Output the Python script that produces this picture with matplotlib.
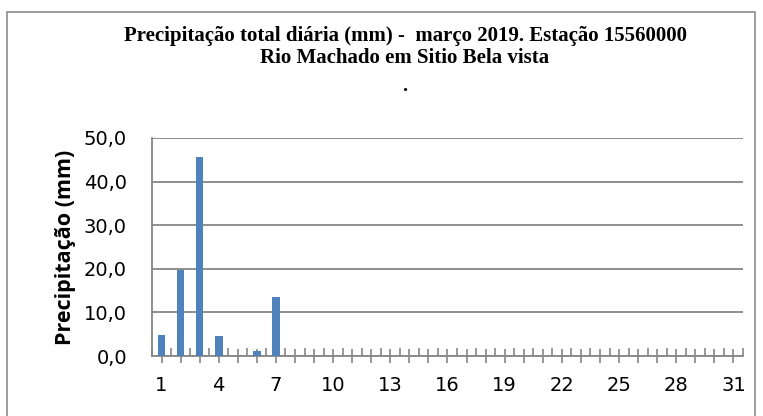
import matplotlib.pyplot as plt
from matplotlib.patches import Rectangle

# dados diários de março 2019
dias = list(range(1, 32))
chuva = [4.8, 19.7, 45.7, 4.6, 0.0, 1.2, 13.6] + [0.0] * 24
rotulos_x = [str(d) if (d - 1) % 3 == 0 else "" for d in dias]
valores_y = [0, 10, 20, 30, 40, 50]

cinza = "#868686"
plt.rcParams["xtick.direction"] = "inout"
plt.rcParams["xtick.major.size"] = 9.5
plt.rcParams["xtick.major.width"] = 1.2
plt.rcParams["xtick.minor.size"] = 5.8
plt.rcParams["xtick.minor.width"] = 1.2
plt.rcParams["xtick.color"] = cinza
plt.rcParams["xtick.labelcolor"] = "black"

fig = plt.figure(figsize=(7.63, 4.16), dpi=100)
ax = fig.add_axes([0.1992, 0.1442, 0.7746, 0.5241])

# moldura externa do gráfico
fig.patches.append(Rectangle((7 / 763, -0.1), 748 / 763, 1 - 12 / 416 + 0.1,
                             transform=fig.transFigure, fill=False,
                             edgecolor="#8c8c8c", linewidth=1.2))

ax.bar(dias, chuva, width=0.4, color="#4F81BD", zorder=3)

ax.set_xlim(0.5, 31.5)
ax.set_ylim(0, 50)
ax.set_yticks(valores_y)
ax.set_yticklabels([f"{v:.1f}".replace(".", ",") for v in valores_y],
                   fontsize=14, family="DejaVu Sans")
ax.set_xticks(dias)
ax.set_xticklabels(rotulos_x, fontsize=14, family="DejaVu Sans")
ax.set_xticks([d + 0.5 for d in range(0, 32)], minor=True)

ax.grid(axis="y", color=cinza, linewidth=1.3, zorder=0)
ax.set_axisbelow(True)
for s in ["top", "right"]:
    ax.spines[s].set_visible(False)
for s in ["left", "bottom"]:
    ax.spines[s].set_color(cinza)
    ax.spines[s].set_linewidth(1.3)

ax.tick_params(axis="y", length=0, pad=18)
ax.tick_params(axis="x", which="major", direction="inout", length=9.5, pad=10)
ax.tick_params(axis="x", which="minor", direction="in", length=5.8)

ax.set_ylabel("Precipitação (mm)", fontsize=15.5, fontweight="bold",
              family="Open Sans", labelpad=6)

titulo = ["Precipitação total diária (mm) -  março 2019. Estação 15560000",
          "Rio Machado em Sitio Bela vista", "."]
for linha, y in zip(titulo, [36, 58, 86]):
    fig.text(405 / 763, 1 - y / 416, linha, ha="center", va="center",
             fontsize=15, fontweight="bold", family="Liberation Serif")

plt.savefig("out.png", dpi=100)
